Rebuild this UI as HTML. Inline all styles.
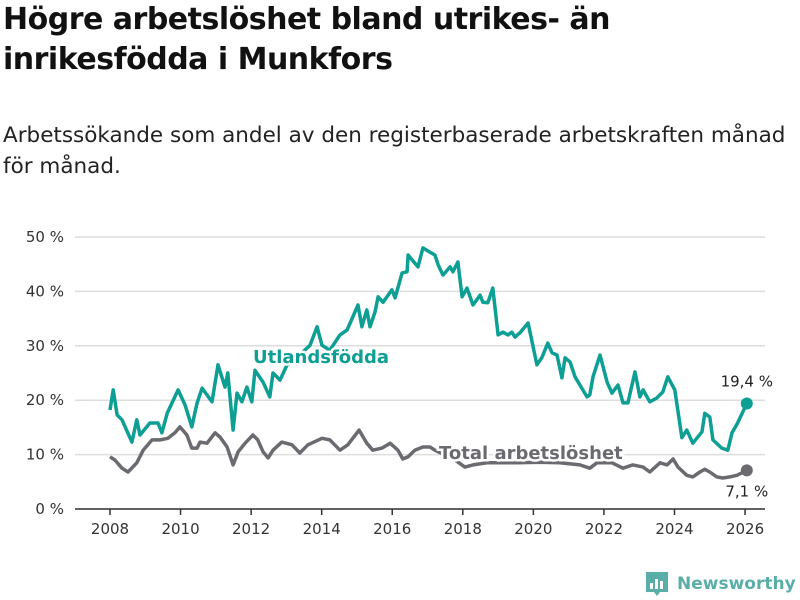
<!DOCTYPE html>
<html><head><meta charset="utf-8"><style>
body{margin:0;background:#fff;width:800px;height:600px;overflow:hidden;font-family:"Liberation Sans","DejaVu Sans",sans-serif;color:#111}
h1{position:absolute;left:3px;top:0;margin:0;font-size:30px;line-height:40px;font-weight:bold;font-family:"DejaVu Sans","Liberation Sans",sans-serif;letter-spacing:-0.5px}
.sub{position:absolute;left:3px;top:120px;font-size:21.5px;line-height:31px;font-family:"DejaVu Sans","Liberation Sans",sans-serif;color:#222;white-space:nowrap}
svg{position:absolute;left:0;top:0}
</style></head><body>
<h1>Högre arbetslöshet bland utrikes- än<br>inrikesfödda i Munkfors</h1>
<div class="sub">Arbetssökande som andel av den registerbaserade arbetskraften månad<br>för månad.</div>
<svg id="chart" width="800" height="600"></svg>
<script>
const yTicks=[0,10,20,30,40,50];
const xTicks=[2008,2010,2012,2014,2016,2018,2020,2022,2024,2026];
const utDates=[2008.0,2008.09,2008.2,2008.34,2008.62,2008.76,2008.85,2009.13,2009.36,2009.47,2009.62,2009.93,2010.13,2010.32,2010.47,2010.61,2010.89,2011.06,2011.26,2011.34,2011.49,2011.6,2011.74,2011.88,2012.02,2012.11,2012.34,2012.53,2012.62,2012.82,2013.02,2013.24,2013.47,2013.67,2013.87,2014.01,2014.23,2014.52,2014.72,2015.03,2015.14,2015.28,2015.37,2015.51,2015.6,2015.74,2015.99,2016.08,2016.28,2016.42,2016.45,2016.64,2016.73,2016.87,2017.07,2017.21,2017.3,2017.44,2017.64,2017.72,2017.86,2017.98,2018.12,2018.29,2018.49,2018.57,2018.71,2018.85,2019.0,2019.14,2019.28,2019.39,2019.48,2019.62,2019.85,2020.1,2020.24,2020.41,2020.53,2020.67,2020.81,2020.9,2021.04,2021.18,2021.52,2021.6,2021.69,2021.89,2022.09,2022.23,2022.4,2022.54,2022.68,2022.88,2023.02,2023.11,2023.3,2023.5,2023.67,2023.81,2024.01,2024.21,2024.35,2024.52,2024.78,2024.86,2025.0,2025.09,2025.34,2025.51,2025.63,2025.79,2026.05];
const utValues=[18.2,21.9,17.3,16.4,12.3,16.4,13.6,15.8,15.8,14,17.6,21.9,19.1,15.1,19.5,22.2,19.7,26.5,22.4,25,14.5,21.3,19.7,22.4,19.7,25.5,23.3,20.6,25,23.7,26.5,27,28.9,30.1,33.5,30.1,29.2,32,32.9,37.5,33.5,36.6,33.5,36.2,39,38,40.3,38.8,43.4,43.6,46.7,45.2,44.5,48,47.2,46.7,44.9,43,44.5,43.6,45.4,39,40.6,37.5,39.3,38,37.9,40.6,32,32.5,32,32.5,31.6,32.4,34.2,26.5,27.8,30.5,28.7,28.3,24.1,27.8,27,24.3,20.6,21,24.3,28.3,23.3,21.3,22.8,19.5,19.5,25.2,20.6,21.9,19.7,20.4,21.5,24.3,21.9,13.1,14.5,12.1,14.2,17.6,16.9,12.7,11.2,10.8,14,15.8,19.4];
const totDates=[2008.0,2008.14,2008.34,2008.51,2008.76,2008.94,2009.19,2009.42,2009.64,2009.84,2009.98,2010.18,2010.32,2010.47,2010.55,2010.75,2010.98,2011.12,2011.32,2011.49,2011.63,2011.83,2012.05,2012.19,2012.34,2012.48,2012.62,2012.87,2013.16,2013.38,2013.61,2014.01,2014.23,2014.52,2014.74,2015.06,2015.28,2015.45,2015.71,2015.94,2016.16,2016.3,2016.45,2016.64,2016.87,2017.07,2017.21,2017.49,2017.78,2018.06,2018.29,2018.68,2019.05,2019.53,2020.19,2020.75,2021.32,2021.6,2021.8,2022.23,2022.54,2022.82,2023.11,2023.3,2023.59,2023.79,2023.96,2024.1,2024.35,2024.52,2024.72,2024.86,2025.0,2025.2,2025.37,2025.57,2025.77,2026.05];
const totValues=[9.6,9,7.5,6.8,8.5,10.8,12.7,12.7,13,14,15.1,13.6,11.2,11.2,12.3,12.1,14,13.2,11.4,8.1,10.5,12.1,13.6,12.7,10.5,9.4,10.8,12.3,11.8,10.3,11.8,13,12.7,10.8,11.8,14.5,12.1,10.8,11.2,12.1,10.8,9.2,9.6,10.8,11.4,11.4,10.8,9.9,9,7.7,8.1,8.5,8.5,8.5,8.6,8.5,8.1,7.5,8.5,8.5,7.5,8.1,7.7,6.8,8.5,8.1,9.2,7.7,6.2,5.9,6.8,7.3,6.8,5.9,5.7,5.9,6.2,7.1];
const NS='http://www.w3.org/2000/svg';
const svg=document.getElementById('chart');
const X=y=>110+(y-2008)*35.28;
const Y=v=>509-v*5.44;
function mk(t,a,p){const e=document.createElementNS(NS,t);for(const k in a)e.setAttribute(k,a[k]);(p||svg).appendChild(e);return e;}
yTicks.forEach(t=>{
  const g=mk('line',{x1:75,x2:765,y1:Y(t),y2:Y(t),stroke:'#ddd','stroke-width':1.5});
  
  
  const l=mk('text',{x:64,y:Y(t)+5,'text-anchor':'end','font-size':15,fill:'#333','font-family':'DejaVu Sans, Liberation Sans, sans-serif'});
  l.textContent=t+' %';
  
  
});
const ax=mk('line',{x1:75,x2:765,y1:509,y2:509,stroke:'#333','stroke-width':1.5});


xTicks.forEach(t=>{
  const tk=mk('line',{x1:X(t),x2:X(t),y1:509,y2:515,stroke:'#333','stroke-width':1.5});
  
  
  const l=mk('text',{x:X(t),y:534,'text-anchor':'middle','font-size':15,fill:'#333','font-family':'DejaVu Sans, Liberation Sans, sans-serif'});
  l.textContent=t;
  
  
});
function line(d,v,c,name){
  const p=mk('path',{d:d.map((x,i)=>(i?'L':'M')+X(x).toFixed(1)+','+Y(v[i]).toFixed(1)).join(''),fill:'none',stroke:c,'stroke-width':3.5,'stroke-linejoin':'round'});
  
  
  const n=d.length-1;
  const dot=mk('circle',{cx:X(d[n]),cy:Y(v[n]),r:6,fill:c});
  
  
}
line(totDates,totValues,'#6b6a70','total-line');
line(utDates,utValues,'#0d9e94','utlandsfodda-line');
function lab(t,x,y,c,name,opt){
  const e=mk('text',Object.assign({x:x,y:y,fill:c,'font-family':'DejaVu Sans, Liberation Sans, sans-serif'},opt));
  e.textContent=t;
  
  
}
lab('Utlandsfödda',253,363,'#0d9e94','utlandsfodda-label',{'font-size':18,'font-weight':'bold',stroke:'#fff','stroke-width':5,'paint-order':'stroke'});
lab('Total arbetslöshet',439,459,'#6b6a70','total-label',{'font-size':18,'font-weight':'bold',stroke:'#fff','stroke-width':5,'paint-order':'stroke'});
const ln=utDates.length-1, tn=totDates.length-1;
lab('19,4 %',X(utDates[ln]),Y(utValues[ln])-17,'#222','utlandsfodda-value-label',{'font-size':15,'text-anchor':'middle'});
lab('7,1 %',X(totDates[tn]),Y(totValues[tn])+26,'#222','total-value-label',{'font-size':15,'text-anchor':'middle'});
</script>
<svg width="800" height="600" style="pointer-events:none">
<path d="M646 572 h22 v20 h-8 l-3 4 l-3 -4 h-8 z" fill="#5aaea8"/>
<rect x="650" y="583" width="3" height="6" fill="#fff"/><rect x="655" y="579" width="3" height="10" fill="#fff"/><rect x="660" y="581" width="3" height="8" fill="#fff"/>
<text x="677" y="589" font-size="17" font-weight="bold" fill="#5aaea8" font-family="DejaVu Sans, Liberation Sans, sans-serif">Newsworthy</text>
</svg>
</body></html>
